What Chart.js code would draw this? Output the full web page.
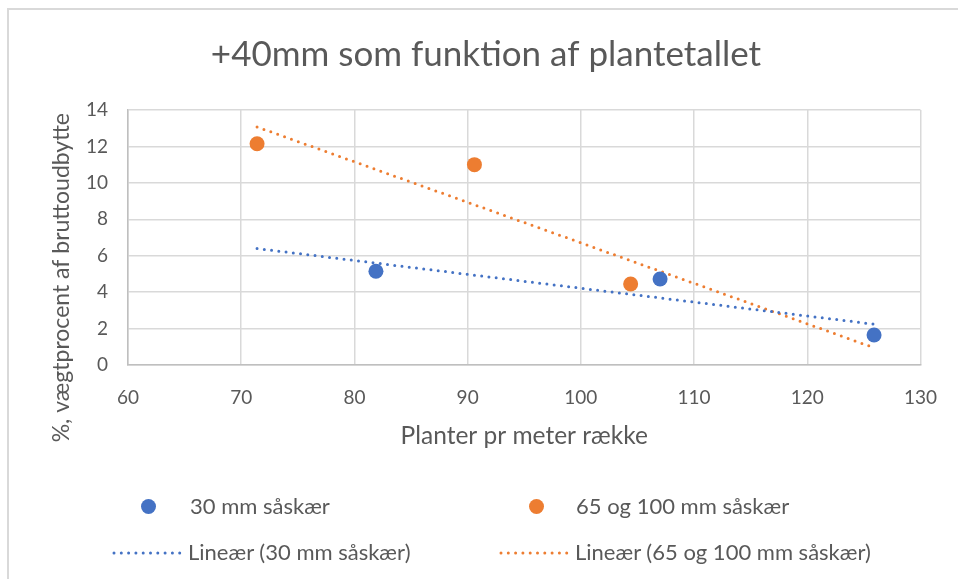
<!DOCTYPE html>
<html>
<head>
<meta charset="utf-8">
<script src="https://cdn.jsdelivr.net/npm/chart.js@4"></script>
<style>
  html, body { margin: 0; padding: 0; background: #fff; width: 958px; height: 579px; overflow: hidden; }
  #frame { position: absolute; left: 7px; top: 8px; width: 1000px; height: 700px; border: 2px solid #d9d9d9; box-sizing: border-box; }
  #wrap { position: absolute; left: 0; top: 0; width: 958px; height: 579px; }
  .leg { position: absolute; font-family: Lato, sans-serif; font-size: 22px; color: #595959; white-space: nowrap; line-height: 26px; }
  .dot { position: absolute; width: 15px; height: 15px; border-radius: 50%; }
  .dl { position: absolute; height: 4px; }
</style>
</head>
<body>
<div id="frame"></div>
<div id="wrap"><canvas id="c" width="958" height="579"></canvas></div>
<div class="dot" style="left:141px;top:499px;background:#4472C4"></div>
<div class="leg" style="left:190px;top:493px">30 mm såskær</div>
<div class="dot" style="left:529px;top:499px;background:#ED7D31"></div>
<div class="leg" style="left:576px;top:493px">65 og 100 mm såskær</div>
<svg class="dl" style="left:112px;top:551px" width="70" height="4"><line x1="2" y1="2" x2="68" y2="2" stroke="#4472C4" stroke-width="3" stroke-linecap="round" stroke-dasharray="0 7.3"/></svg>
<div class="leg" style="left:188px;top:539px">Lineær (30 mm såskær)</div>
<svg class="dl" style="left:499px;top:551px" width="70" height="4"><line x1="2" y1="2" x2="68" y2="2" stroke="#ED7D31" stroke-width="3" stroke-linecap="round" stroke-dasharray="0 7.3"/></svg>
<div class="leg" style="left:575px;top:539px">Lineær (65 og 100 mm såskær)</div>
<script>
const titleText = "+40mm som funktion af plantetallet";
const xTitle = "Planter pr meter række";
const yTitle = "%, vægtprocent af bruttoudbytte";
const seriesNames = ["30 mm såskær", "65 og 100 mm såskær"];
const blueX = [81.9, 107.0, 125.9];
const blueY = [5.15, 4.72, 1.65];
const orangeX = [71.4, 90.6, 104.4];
const orangeY = [12.15, 11.0, 4.45];
const xTicks = [60, 70, 80, 90, 100, 110, 120, 130];
const yTicks = [0, 2, 4, 6, 8, 10, 12, 14];

const BLUE = "#4472C4", ORANGE = "#ED7D31", TXT = "#595959";

function pts(xs, ys) { return xs.map((x, i) => ({ x: x, y: ys[i] })); }
function linReg(xs, ys) {
  const n = xs.length;
  const mx = xs.reduce((a, b) => a + b, 0) / n;
  const my = ys.reduce((a, b) => a + b, 0) / n;
  let sxy = 0, sxx = 0;
  for (let i = 0; i < n; i++) { sxy += (xs[i] - mx) * (ys[i] - my); sxx += (xs[i] - mx) ** 2; }
  const b = sxy / sxx;
  return x => my + b * (x - mx);
}
const allX = blueX.concat(orangeX);
const trendRange = [Math.min(...allX), Math.max(...allX)];
const fb = linReg(blueX, blueY), fo = linReg(orangeX, orangeY);
const blueTrend = trendRange.map(x => ({ x: x, y: fb(x) }));
const orangeTrend = trendRange.map(x => ({ x: x, y: fo(x) }));

const yTitlePlugin = {
  id: "yTitle",
  afterDraw(chart) {
    const ctx = chart.ctx;
    ctx.save();
    ctx.translate(62, 113);
    ctx.rotate(-Math.PI / 2);
    ctx.font = "23px Lato";
    ctx.fillStyle = TXT;
    ctx.textAlign = "right";
    ctx.textBaseline = "middle";
    ctx.fillText(yTitle, 0, 0);
    ctx.restore();
  }
};

new Chart(document.getElementById("c"), {
  type: "scatter",
  data: {
    datasets: [
      { label: "Lineær (" + seriesNames[0] + ")", data: blueTrend, showLine: true, pointRadius: 0, borderColor: BLUE, borderWidth: 3, borderDash: [0, 7.3], borderCapStyle: "round", order: 2 },
      { label: "Lineær (" + seriesNames[1] + ")", data: orangeTrend, showLine: true, pointRadius: 0, borderColor: ORANGE, borderWidth: 3, borderDash: [0, 7.3], borderCapStyle: "round", order: 2 },
      { label: seriesNames[0], data: pts(blueX, blueY), pointRadius: 7.5, pointBackgroundColor: BLUE, pointBorderWidth: 0, backgroundColor: BLUE, borderColor: BLUE, order: 1 },
      { label: seriesNames[1], data: pts(orangeX, orangeY), pointRadius: 7.5, pointBackgroundColor: ORANGE, pointBorderWidth: 0, backgroundColor: ORANGE, borderColor: ORANGE, order: 1 }
    ]
  },
  options: {
    responsive: false,
    animation: false,
    events: [],
    layout: { padding: { left: 50, right: 36, top: 0, bottom: 128 } },
    plugins: {
      legend: { display: false },
      tooltip: { enabled: false },
      title: {
        display: true, text: titleText, color: TXT,
        font: { family: "Lato", size: 35, weight: "normal", lineHeight: 1.2 },
        padding: { top: 34, bottom: 34 }
      }
    },
    scales: {
      x: {
        type: "linear", min: 60, max: 130,
        afterBuildTicks: s => { s.ticks = xTicks.map(v => ({ value: v })); },
        afterFit: s => { s.height = 86; },
        grid: { color: "#d9d9d9", lineWidth: 1.5, drawTicks: false },
        border: { color: "#bfbfbf", width: 1.5 },
        ticks: { color: TXT, padding: 21, maxRotation: 0, font: { family: "Lato", size: 19 } },
        title: { display: true, text: xTitle, color: TXT, padding: 0, font: { family: "Lato", size: 24.5, lineHeight: 1.2 } }
      },
      y: {
        type: "linear", min: 0, max: 14,
        afterBuildTicks: s => { s.ticks = yTicks.map(v => ({ value: v })); },
        afterFit: s => { s.width = 78; },
        grid: { color: "#d9d9d9", lineWidth: 1.5, drawTicks: false },
        border: { color: "#bfbfbf", width: 1.5 },
        ticks: { color: TXT, padding: 20, font: { family: "Lato", size: 19 } },
        title: { display: false }
      }
    }
  },
  plugins: [yTitlePlugin]
});
</script>
</body>
</html>
